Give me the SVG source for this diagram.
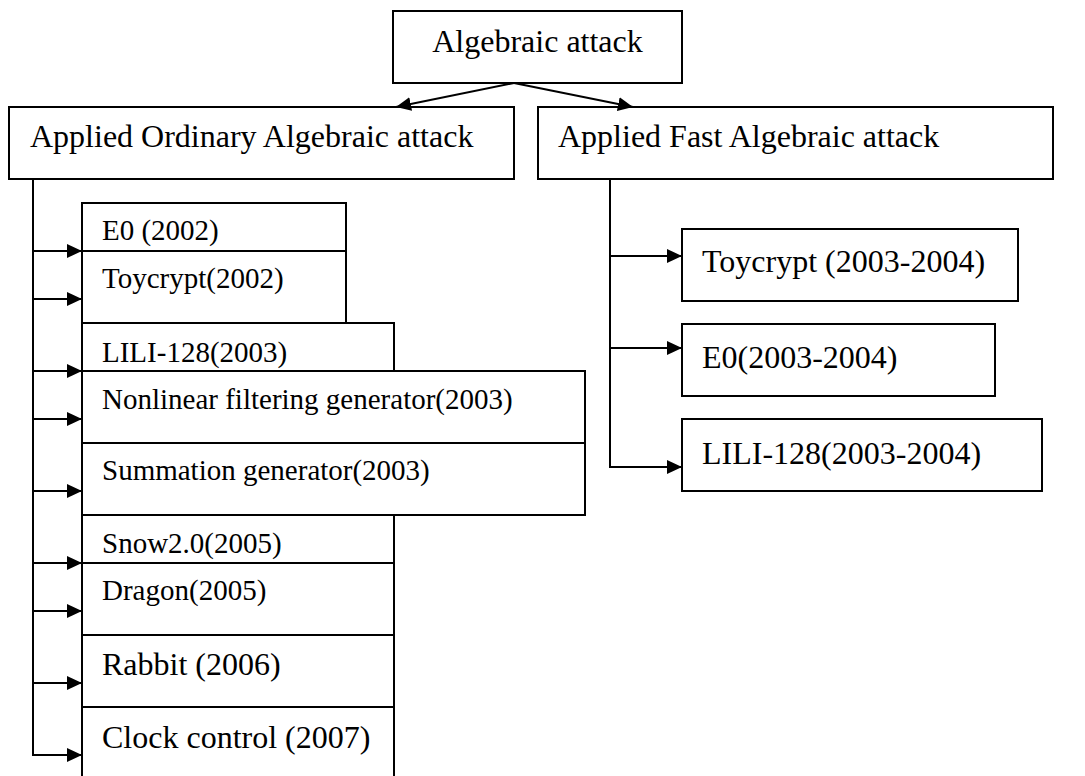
<svg xmlns="http://www.w3.org/2000/svg" width="1085" height="776" viewBox="0 0 1085 776">
  <style>
    .box { fill: #ffffff; stroke: #000000; stroke-width: 2; }
    .t { font-family: 'Liberation Serif', 'Times New Roman', Times, serif; fill: #000000; }
    .big { font-size: 32px; }
    .small { font-size: 29px; }
    .conn { fill: none; stroke: #000000; stroke-width: 2; marker-end: url(#arrow); }
  </style>
  <defs>
    <marker id="arrow" markerUnits="userSpaceOnUse" markerWidth="16" markerHeight="14" refX="15" refY="7" orient="auto">
      <path d="M0,0 L15,7 L0,14 Z" fill="#000000"/>
    </marker>
  </defs>
  <rect width="1085" height="776" fill="#ffffff"/>

  <g id="n-root">
    <rect class="box" x="393" y="11" width="289" height="72"/>
    <text class="t big" x="537.5" y="52" text-anchor="middle">Algebraic attack</text>
  </g>
  <g id="n-ordinary">
    <rect class="box" x="9" y="107" width="505" height="72"/>
    <text class="t big" x="30" y="147">Applied Ordinary Algebraic attack</text>
  </g>
  <g id="n-fast">
    <rect class="box" x="538" y="107" width="515" height="72"/>
    <text class="t big" x="558" y="147">Applied Fast Algebraic attack</text>
  </g>

  <g id="n-e0-2002">
    <rect class="box" x="82" y="203" width="264" height="48"/>
    <text class="t small" x="102" y="240">E0 (2002)</text>
  </g>
  <g id="n-toycrypt-2002">
    <rect class="box" x="82" y="251" width="264" height="72"/>
    <text class="t small" x="102" y="288">Toycrypt(2002)</text>
  </g>
  <g id="n-lili-2003">
    <rect class="box" x="82" y="323" width="312" height="48"/>
    <text class="t small" x="102" y="362">LILI-128(2003)</text>
  </g>
  <g id="n-nonlinear">
    <rect class="box" x="82" y="371" width="503" height="72"/>
    <text class="t small" x="102" y="409">Nonlinear filtering generator(2003)</text>
  </g>
  <g id="n-summation">
    <rect class="box" x="82" y="443" width="503" height="72"/>
    <text class="t small" x="102" y="480">Summation generator(2003)</text>
  </g>
  <g id="n-snow">
    <rect class="box" x="82" y="515" width="312" height="48"/>
    <text class="t small" x="102" y="553">Snow2.0(2005)</text>
  </g>
  <g id="n-dragon">
    <rect class="box" x="82" y="563" width="312" height="72"/>
    <text class="t small" x="102" y="600">Dragon(2005)</text>
  </g>
  <g id="n-rabbit">
    <rect class="box" x="82" y="635" width="312" height="72"/>
    <text class="t big" x="102" y="675">Rabbit (2006)</text>
  </g>
  <g id="n-clock">
    <rect class="box" x="82" y="707" width="312" height="72"/>
    <text class="t big" x="102" y="748">Clock control (2007)</text>
  </g>

  <g id="n-toycrypt-fast">
    <rect class="box" x="682" y="229" width="336" height="72"/>
    <text class="t big" x="702" y="272">Toycrypt (2003-2004)</text>
  </g>
  <g id="n-e0-fast">
    <rect class="box" x="682" y="324" width="313" height="72"/>
    <text class="t big" x="702" y="368">E0(2003-2004)</text>
  </g>
  <g id="n-lili-fast">
    <rect class="box" x="682" y="419" width="360" height="72"/>
    <text class="t big" x="702" y="464">LILI-128(2003-2004)</text>
  </g>

  <g id="connectors">
    <path class="conn" d="M514,83 L396,107"/>
    <path class="conn" d="M514,83 L633,107"/>

    <path class="conn" d="M33,251 H82"/>
    <path class="conn" d="M33,299 H82"/>
    <path class="conn" d="M33,371 H82"/>
    <path class="conn" d="M33,419 H82"/>
    <path class="conn" d="M33,491 H82"/>
    <path class="conn" d="M33,563 H82"/>
    <path class="conn" d="M33,611 H82"/>
    <path class="conn" d="M33,683 H82"/>
    <path class="conn" d="M33,179 V755 H82"/>

    <path class="conn" d="M610,256 H682"/>
    <path class="conn" d="M610,348 H682"/>
    <path class="conn" d="M610,179 V467 H682"/>
  </g>
</svg>
